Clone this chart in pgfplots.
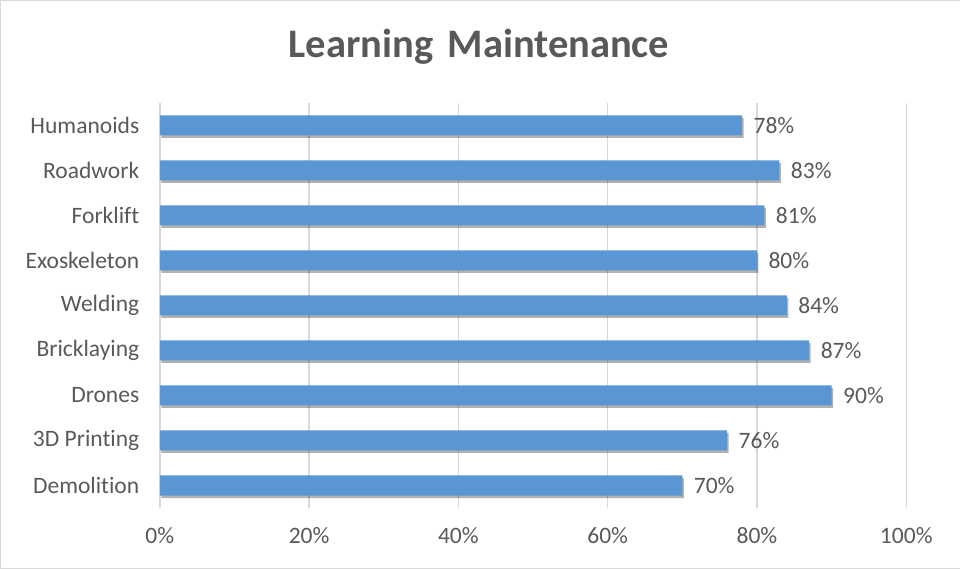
\documentclass[border=0pt]{standalone}
\usepackage{pgfplots}
\pgfplotsset{compat=1.18}
\usepackage{fontspec}
\setmainfont{Carlito}[Ligatures=NoCommon]
\usetikzlibrary{shadows}
\definecolor{txt}{HTML}{595959}
\definecolor{gridc}{HTML}{D9D9D9}
\definecolor{barc}{HTML}{5996D3}

\begin{document}
\begin{tikzpicture}[x=1pt,y=1pt]
\path[draw=gridc] (0.5,0.5) rectangle (959.5,568.5);
\node[anchor=base, text=txt, font=\fontsize{40.5}{46}\selectfont\bfseries] at (479,511) {Learning\hspace{0.35em}Maintenance};
\begin{axis}[
    at={(160pt,61pt)}, anchor=south west,
    scale only axis,
    width=746pt, height=405pt,
    xbar, bar width=20pt,
    xmin=0, xmax=100,
    ymin=-0.5, ymax=8.5,
    xtick={0,20,...,100},
    xticklabel={\pgfmathprintnumber{\tick}\%},
    ytick={0,...,8},
    yticklabels={Demolition,3D Printing,Drones,Bricklaying,Welding,Exoskeleton,Forklift,Roadwork,Humanoids},
    /pgf/number format/assume math mode=true,
    tick label style={font=\fontsize{23.5}{27}\selectfont, text=txt},
    xticklabel style={yshift=-16pt},
    yticklabel style={xshift=-17pt},
    major tick length=0pt,
    axis line style={draw=none},
    xmajorgrids,
    major grid style={gridc, line width=1.5pt},
    nodes near coords={\pgfmathprintnumber{\pgfplotspointmeta}\%},
    nodes near coords style={font=\fontsize{23.5}{27}\selectfont, text=txt, anchor=west, xshift=8pt},
    clip=false,
]
\addplot[draw=none, fill=barc,
    drop shadow={shadow xshift=1.5pt, shadow yshift=-2.5pt, opacity=0.3, fill=black}]
coordinates {
    (70,0) (76,1) (90,2) (87,3) (84,4) (80,5) (81,6) (83,7) (78,8)
};
\end{axis}
\end{tikzpicture}
\end{document}
